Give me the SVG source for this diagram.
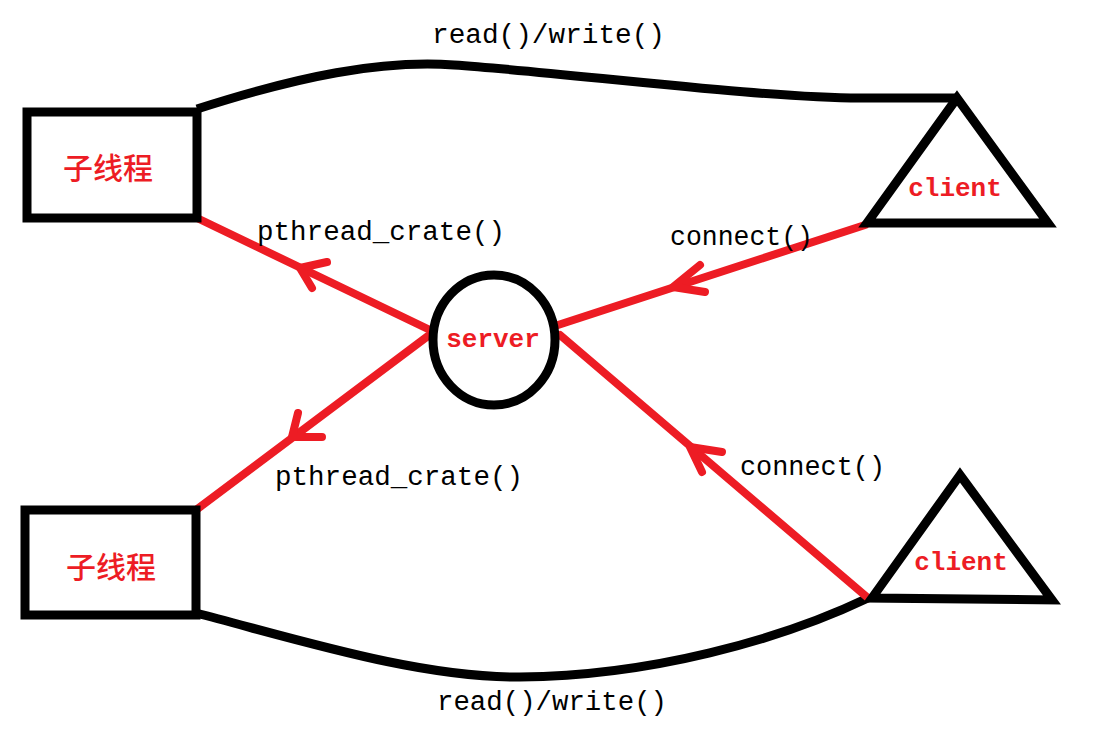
<svg xmlns="http://www.w3.org/2000/svg" width="1120" height="741" viewBox="0 0 1120 741">
<style>
.blk{fill:none;stroke:#000;stroke-width:9;stroke-linejoin:miter}
.red{fill:none;stroke:#ed1c24;stroke-width:8;stroke-linecap:round;stroke-linejoin:round}
.lbl{font-family:"Liberation Mono",monospace;font-size:27px;fill:#000}
.nt{font-family:"Liberation Mono",monospace;font-size:26px;font-weight:bold;fill:#ed1c24;text-anchor:middle}
.cn{font-family:"Noto Sans CJK SC",sans-serif;font-size:30px;font-weight:500;fill:#ed1c24;text-anchor:middle}
</style>
<rect width="1120" height="741" fill="#fff"/>
<g id="connectors">
<path class="blk" d="M197,109 C300,76 380,60 454,65 C560,72 760,98 860,98 L957,98"/>
<path class="blk" d="M196,613 C300,640 420,678 520,677 C650,676 780,640 868,598"/>
<line class="red" x1="197" y1="218" x2="430" y2="330"/>
<polyline class="red" points="327,262 300,268 312,288"/>
<line class="red" x1="428" y1="336" x2="196" y2="510"/>
<polyline class="red" points="298,413 292,437 322,437"/>
<line class="red" x1="865" y1="225" x2="558" y2="325"/>
<polyline class="red" points="700,265 673,287 705,292"/>
<line class="red" x1="868" y1="598" x2="560" y2="335"/>
<polyline class="red" points="722,452 690,447 702,472"/>
<text class="lbl" x="432" y="43" textLength="233" lengthAdjust="spacingAndGlyphs">read()/write()</text>
<text class="lbl" x="437" y="710" textLength="230" lengthAdjust="spacingAndGlyphs">read()/write()</text>
<text class="lbl" x="257" y="240" textLength="248" lengthAdjust="spacingAndGlyphs">pthread_crate()</text>
<text class="lbl" x="275" y="485" textLength="248" lengthAdjust="spacingAndGlyphs">pthread_crate()</text>
<text class="lbl" x="670" y="245" textLength="143" lengthAdjust="spacingAndGlyphs">connect()</text>
<text class="lbl" x="740" y="475" textLength="145" lengthAdjust="spacingAndGlyphs">connect()</text>
</g>
<g id="thread1">
<rect class="blk" x="27" y="112" width="170" height="106"/>
<text class="cn" x="108" y="179">子线程</text>
</g>
<g id="thread2">
<rect class="blk" x="25" y="510" width="171" height="105"/>
<text class="cn" x="111" y="578">子线程</text>
</g>
<g id="server">
<ellipse class="blk" cx="494" cy="340" rx="61" ry="65"/>
<text class="nt" x="493" y="347">server</text>
</g>
<g id="client1">
<polygon class="blk" points="957,98 867,223 1048,223"/>
<text class="nt" x="955" y="196">client</text>
</g>
<g id="client2">
<polygon class="blk" points="960,475 872,598 1052,600"/>
<text class="nt" x="961" y="570">client</text>
</g>
</svg>
